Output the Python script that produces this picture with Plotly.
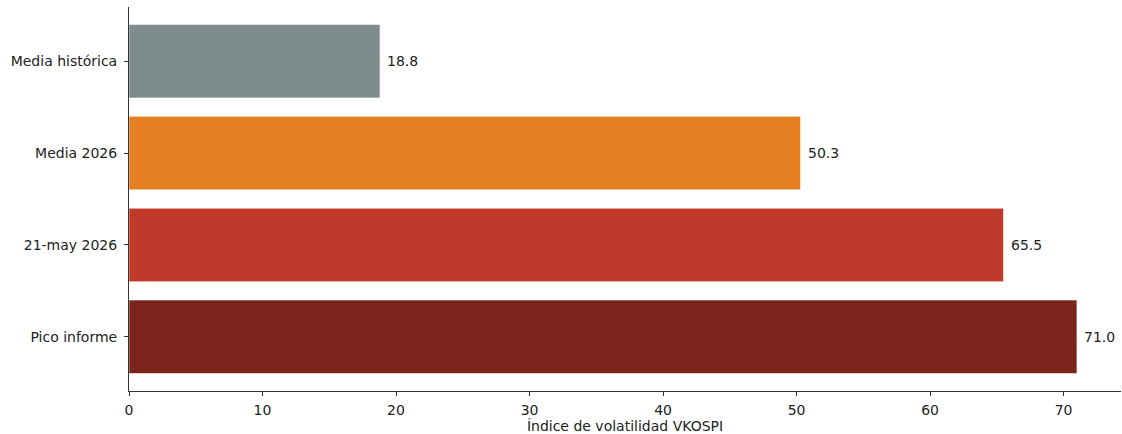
import plotly.graph_objects as go

categories = ["Pico informe", "21-may 2026", "Media 2026", "Media histórica"]
values = [71.0, 65.5, 50.3, 18.8]
colors = ["#7b241c", "#c0392b", "#e67e22", "#7f8c8d"]
x_title = "Índice de volatilidad VKOSPI"

fig = go.Figure()
fig.add_trace(go.Bar(
    x=values, y=categories, orientation="h",
    marker=dict(color=colors, line=dict(width=0.7, color="rgba(255,255,255,0.8)")),
    width=0.8, hoverinfo="skip",
))

for c, v in zip(categories, values):
    fig.add_annotation(x=v, y=c, text=f"{v:.1f}", showarrow=False,
                       xanchor="left", yanchor="middle", xshift=5,
                       font=dict(family="DejaVu Sans", size=14, color="#222"))

fig.update_layout(
    width=1122, height=434,
    margin=dict(l=129, r=1, t=7, b=43),
    plot_bgcolor="white", paper_bgcolor="white",
    showlegend=False,
    font=dict(family="DejaVu Sans", size=14, color="#222"),
    xaxis=dict(range=[0, 74.3], tickvals=[0, 10, 20, 30, 40, 50, 60, 70],
               showgrid=False, zeroline=False, showline=True, linecolor="#333",
               linewidth=1, ticks="outside", ticklen=4, tickcolor="#333",
               ticklabelstandoff=2,
               title=dict(text=x_title, font=dict(size=14), standoff=4)),
    yaxis=dict(range=[-0.59, 3.59], type="category", categoryarray=categories,
               showgrid=False, zeroline=False, showline=True, linecolor="#333",
               linewidth=1, ticks="outside", ticklen=4, tickcolor="#333",
               ticklabelstandoff=4),
)

fig.write_html("out.html")
